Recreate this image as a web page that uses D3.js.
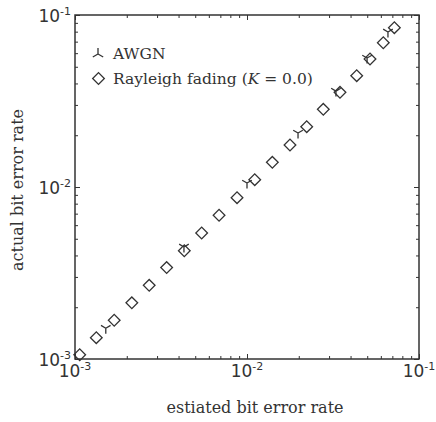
<!DOCTYPE html>
<html>
<head>
<meta charset="utf-8">
<script src="https://cdn.jsdelivr.net/npm/d3@7"></script>
<style>
  body { margin: 0; background: #fff; }
  svg { display: block; }
</style>
</head>
<body>
<div class="chart"></div>
<script>
// data (estimated BER vs actual BER)
const rayleighEst = [1.065e-3, 1.33e-3, 1.69e-3, 2.14e-3, 2.70e-3, 3.41e-3, 4.32e-3, 5.45e-3, 6.88e-3, 8.75e-3,
                     1.109e-2, 1.404e-2, 1.778e-2, 2.224e-2, 2.777e-2, 3.473e-2, 4.343e-2, 5.19e-2, 6.20e-2, 7.19e-2];
const rayleighAct = [1.059e-3, 1.33e-3, 1.68e-3, 2.12e-3, 2.68e-3, 3.40e-3, 4.26e-3, 5.40e-3, 6.85e-3, 8.67e-3,
                     1.103e-2, 1.392e-2, 1.755e-2, 2.242e-2, 2.829e-2, 3.553e-2, 4.437e-2, 5.55e-2, 6.90e-2, 8.44e-2];
const awgnEst = [1.51e-3, 4.30e-3, 1.0e-2, 1.98e-2, 3.29e-2, 4.99e-2, 6.60e-2];
const awgnAct = [1.51e-3, 4.48e-3, 1.055e-2, 2.06e-2, 3.61e-2, 5.62e-2, 7.97e-2];

const majorTicks = [1e-3, 1e-2, 1e-1];
const majorExp = ["-3", "-2", "-1"];
const minorTicks = [2e-3, 3e-3, 4e-3, 5e-3, 6e-3, 7e-3, 8e-3, 9e-3,
                    2e-2, 3e-2, 4e-2, 5e-2, 6e-2, 7e-2, 8e-2, 9e-2];

const xLabel = "estiated bit error rate";
const yLabel = "actual bit error rate";
const legendAwgn = "AWGN";

// chart setup
let margin = {top: 15, right: 17, left: 75, bottom: 63};
let outWidth = 436, outHeight = 422;
let width = outWidth - margin.left - margin.right,
    height = outHeight - margin.top - margin.bottom;

const ink = "#333";

const svg = d3.select(".chart").append("svg")
    .attr("width", outWidth)
    .attr("height", outHeight);

const g = svg.append("g")
    .attr("transform", `translate(${margin.left}, ${margin.top})`);

let xScale = d3.scaleLog().domain([1e-3, 1e-1]).range([0, width]);
let yScale = d3.scaleLog().domain([1e-3, 1e-1]).range([height, 0]);

// ticks on all four sides, pointing inward
function ticks(axisFn, scale, vals, size, tr) {
  const a = g.append("g")
      .attr("transform", tr)
      .call(axisFn(scale).tickValues(vals).tickSize(-size).tickFormat(""));
  a.select(".domain").remove();
  a.selectAll("line").attr("stroke", ink).attr("stroke-width", 1);
  return a;
}
ticks(d3.axisBottom, xScale, minorTicks, 3, `translate(0,${height})`);
ticks(d3.axisBottom, xScale, majorTicks, 5, `translate(0,${height})`);
ticks(d3.axisTop, xScale, minorTicks, 3, "translate(0,0)");
ticks(d3.axisTop, xScale, majorTicks, 5, "translate(0,0)");
ticks(d3.axisLeft, yScale, minorTicks, 3, "translate(0,0)");
ticks(d3.axisLeft, yScale, majorTicks, 5, "translate(0,0)");
ticks(d3.axisRight, yScale, minorTicks, 3, `translate(${width},0)`);
ticks(d3.axisRight, yScale, majorTicks, 5, `translate(${width},0)`);

// frame
g.append("rect")
    .attr("width", width).attr("height", height)
    .attr("fill", "none").attr("stroke", ink).attr("stroke-width", 1.5);

// tick labels 10^n
function powLabel(sel) {
  sel.attr("font-family", "DejaVu Sans, sans-serif")
     .attr("font-size", 17)
     .attr("fill", ink)
     .each(function(d, i) {
       const t = d3.select(this);
       t.append("tspan").text("10");
       t.append("tspan").attr("font-size", 11).attr("dy", -7).text(majorExp[i]);
     });
}
g.append("g").selectAll("text")
    .data(majorTicks)
    .join("text")
    .attr("x", d => xScale(d))
    .attr("y", height + 18)
    .attr("text-anchor", "middle")
    .call(powLabel);

g.append("g").selectAll("text")
    .data(majorTicks)
    .join("text")
    .attr("x", -4)
    .attr("y", d => yScale(d) + 7)
    .attr("text-anchor", "end")
    .call(powLabel);

// axis titles
svg.append("text")
    .attr("x", 255).attr("y", 413)
    .attr("text-anchor", "middle")
    .attr("font-family", "DejaVu Serif, serif")
    .attr("font-size", 16)
    .attr("fill", ink)
    .text(xLabel);

svg.append("text")
    .attr("transform", "translate(23,190) rotate(-90)")
    .attr("text-anchor", "middle")
    .attr("font-family", "DejaVu Serif, serif")
    .attr("font-size", 16)
    .attr("fill", ink)
    .text(yLabel);

// markers
const diamond = d3.symbol().type(d3.symbolSquare).size(68);
const triDown = "M0,0L0,5.5M0,0L-4.8,-2.8M0,0L4.8,-2.8";
const triUp = "M0,0L0,-6M0,0L-5.2,3M0,0L5.2,3";

g.append("g").selectAll("path")
    .data(awgnEst)
    .join("path")
    .attr("transform", (d, i) => `translate(${xScale(d)},${yScale(awgnAct[i])})`)
    .attr("d", triDown)
    .attr("fill", "none")
    .attr("stroke", ink)
    .attr("stroke-width", 1.3);

g.append("g").selectAll("path")
    .data(rayleighEst)
    .join("path")
    .attr("transform", (d, i) => `translate(${xScale(d)},${yScale(rayleighAct[i])}) rotate(45)`)
    .attr("d", diamond)
    .attr("fill", "none")
    .attr("stroke", ink)
    .attr("stroke-width", 1.3);

// legend
const leg = svg.append("g");
leg.append("path")
    .attr("transform", "translate(98,54)")
    .attr("d", triUp)
    .attr("fill", "none").attr("stroke", ink).attr("stroke-width", 1.3);
leg.append("text")
    .attr("x", 113).attr("y", 59)
    .attr("font-family", "DejaVu Serif, serif")
    .attr("font-size", 15.5)
    .attr("fill", ink)
    .text(legendAwgn);

leg.append("path")
    .attr("transform", "translate(98.5,78.5) rotate(45)")
    .attr("d", diamond)
    .attr("fill", "none").attr("stroke", ink).attr("stroke-width", 1.3);
const lt = leg.append("text")
    .attr("x", 113).attr("y", 84)
    .attr("font-family", "DejaVu Serif, serif")
    .attr("font-size", 15.5)
    .attr("fill", ink);
lt.append("tspan").text("Rayleigh fading (");
lt.append("tspan").attr("font-style", "italic").text("K");
lt.append("tspan").text(" = 0.0)");
</script>
</body>
</html>
